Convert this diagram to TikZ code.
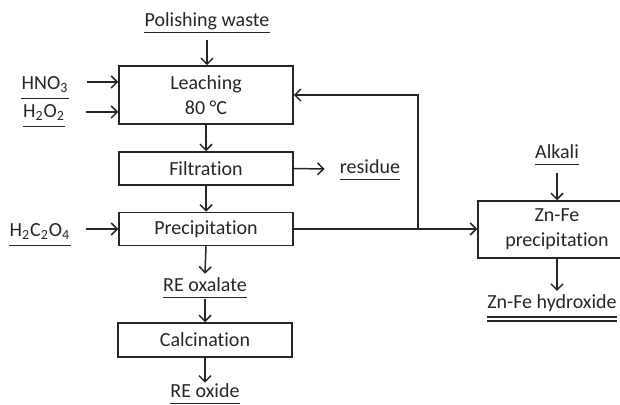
\documentclass[tikz,border=0pt]{standalone}
\usepackage{fontspec}
\setmainfont{Carlito}[Ligatures={NoCommon}]
\usetikzlibrary{arrows.meta}
\begin{document}
\begin{tikzpicture}[x=0.5pt,y=-0.5pt,
  font=\fontsize{10}{12.5}\selectfont, color={black!85},
  box/.style={draw, line width=0.75pt, minimum width=87pt, minimum height=16.5pt, align=center, inner sep=0pt},
  arr/.style={-{Straight Barb[length=3pt,width=6pt]}, line width=0.75pt},
  ul/.style={inner xsep=0pt, inner ysep=0.6pt, text height=0.65em, text depth=0.22em,
    append after command={\pgfextra{\let\ulnode\tikzlastnode} (\ulnode.south west) edge[line width=0.6pt] (\ulnode.south east)}},
  ulsub/.style={ul, text depth=0.35em},
  dul/.style={inner xsep=0pt, inner ysep=2pt, text height=0.65em, text depth=0.22em,
    append after command={\pgfextra{\let\ulnode\tikzlastnode} (\ulnode.south west) edge[line width=0.6pt] (\ulnode.south east)
      ([yshift=-2pt]\ulnode.south west) edge[line width=0.6pt] ([yshift=-2pt]\ulnode.south east)}}
]
\path[use as bounding box] (0,0) rectangle (620,405);
\clip (0,0) rectangle (620,405);

% boxes
\node[box, minimum height=29pt] (leach) at (206,95) {Leaching\\80 °C};
\node[box] (filt) at (206,168.5) {Filtration};
\node[box] (prec) at (206,229) {Precipitation};
\node[box, minimum height=17pt] (calc) at (205,340) {Calcination};
\node[box, minimum width=79pt, minimum height=28.5pt] (zn) at (557,229.5) {Zn-Fe\\precipitation};

% labels
\node[ul] (pw) at (207,22) {Polishing waste};
\node[ulsub] (hno3) at (45,87) {HNO\textsubscript{3}};
\node[ulsub] (h2o2) at (44,115) {H\textsubscript{2}O\textsubscript{2}};
\node[ulsub] (h2c2o4) at (40,234) {H\textsubscript{2}C\textsubscript{2}O\textsubscript{4}};
\node[ul] (res) at (370,169) {residue};
\node[ul] (reox) at (205,287) {RE oxalate};
\node[ul] (reoxide) at (205,393) {RE oxide};
\node[ul] (alk) at (557,154) {Alkali};
\node[dul] (znoh) at (552,304) {Zn-Fe hydroxide};

% connectors
\draw[arr] ([yshift=-4pt]pw.south) -- (pw.south |- leach.north);
\coordinate (a1) at ([shift={(9pt,2.5pt)}]hno3.east);
\draw[arr] (a1) -- (a1 -| leach.west);
\coordinate (a2) at ([shift={(10.5pt,1.5pt)}]h2o2.east);
\draw[arr] (a2) -- (a2 -| leach.west);
\draw[arr] (leach.south) -- (filt.north);
\draw[arr] (filt.east) -- ([xshift=-7.5pt]res.west);
\draw[arr] (filt.south) -- (prec.north);
\coordinate (a3) at ([shift={(7.5pt,2.5pt)}]h2c2o4.east);
\draw[arr] (a3) -- (a3 -| prec.west);
\draw[arr] (prec.south) -- ([yshift=1.5pt]reox.north);
\draw[arr] ([yshift=-1pt]reox.south) -- (calc.north);
\draw[arr] (calc.south) -- (reoxide.north);
\coordinate (j) at (418,229);
\draw[arr] (prec.east) -- (prec.east -| zn.west);
\draw[arr] (j) |- (leach.east);
\draw[arr] ([yshift=-4.5pt]alk.south) -- (zn.north);
\draw[arr] (zn.south) -- (zn.south |- znoh.north);
\end{tikzpicture}
\end{document}
